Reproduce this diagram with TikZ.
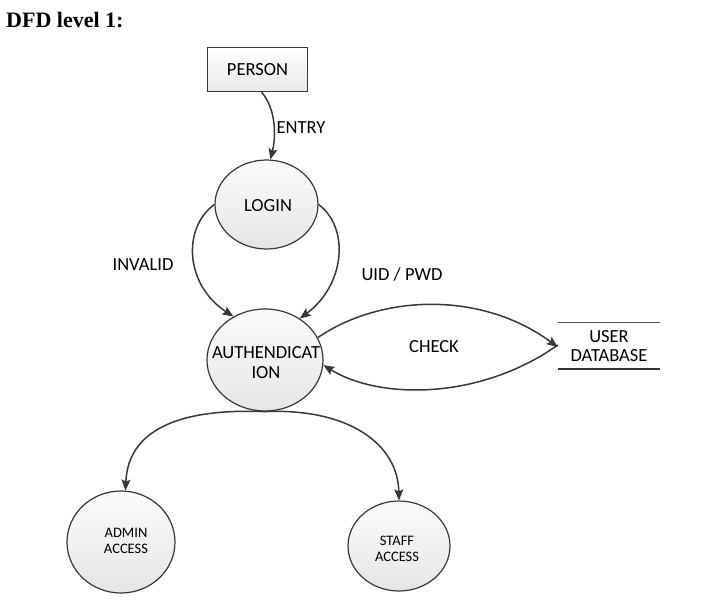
\documentclass[tikz,border=0pt]{standalone}
\usepackage{fontspec}
\setmainfont{Carlito}
\newfontfamily\titlefont{Liberation Serif}
\usetikzlibrary{shapes.geometric,arrows.meta}
\begin{document}
\begin{tikzpicture}[x=1pt,y=-1pt,
  proc/.style={ellipse, draw=black!78, line width=1.2pt, top color=gray!3, bottom color=gray!20, inner sep=0pt},
  txt/.style={align=center, inner sep=0pt, font=\fontsize{18.5}{19.5}\selectfont},
  smalltxt/.style={align=center, inner sep=0pt, font=\fontsize{14.5}{16}\selectfont},
  arr/.style={-{Stealth[length=11pt,width=9pt,inset=2pt]}, line width=1.5pt, draw=black!78},
  entity/.style={rectangle, draw=black!78, line width=1.2pt, top color=white, bottom color=gray!18, minimum width=100, minimum height=44, inner sep=0pt, font=\fontsize{18.5}{19.5}\selectfont}
]
\useasboundingbox (0,0) rectangle (708,599);

\node[anchor=base west, inner sep=0pt, font=\titlefont\fontsize{22}{24}\selectfont\bfseries] (title) at (6,28) {DFD level 1:};

% entity
\node[entity] (person) at (257.5,69.5) {PERSON};

% processes
\node[proc, minimum width=103, minimum height=89] (login) at (266.5,204.5) {};
\node[txt] (loginT) at (268,206) {LOGIN};

\node[proc, minimum width=116, minimum height=102] (auth) at (265,360) {};
\node[txt] (authT) at (266,362.5) {AUTHENDICAT\\ION};

\node[proc, minimum width=108, minimum height=102] (admin) at (121,542) {};
\node[smalltxt] (adminT) at (126,541) {ADMIN\\ACCESS};

\node[proc, minimum width=102, minimum height=90] (staff) at (399,546) {};
\node[smalltxt] (staffT) at (397,549) {STAFF\\ACCESS};

% data store
\node[txt, minimum width=102, minimum height=46] (db) at (609,346) {USER\\DATABASE};
\draw[line width=1pt, black!70] (db.north west) -- (db.north east);
\draw[line width=2.2pt, black!80] (db.south west) -- (db.south east);

% flows
\draw[arr] ([xshift=4pt]person.south) .. controls +(14,16) and +(6,-25) .. (login.85);
\node[txt] (entryL) at (301,128) {ENTRY};

\draw[arr] (login.west) .. controls (182,228) and (185,285) .. (auth.126);
\node[txt] (invalidL) at (143,265) {INVALID};

\draw[arr] (login.east) .. controls (350,228) and (345,285) .. (auth.50);
\node[txt] (uidL) at (402,274) {UID / PWD};

\draw[arr] (auth.23) .. controls (380,295) and (480,290) .. ([yshift=-1pt]db.west);
\draw[arr] ([yshift=1pt]db.west) .. controls (480,400) and (380,400) .. (auth.-5);
\node[txt] (checkL) at (434,347) {CHECK};

\draw[arr] (auth.south) .. controls (175,408) and (128,432) .. (admin.85);
\draw[arr] (auth.south) .. controls (350,408) and (398,445) .. (staff.north);
\end{tikzpicture}
\end{document}
